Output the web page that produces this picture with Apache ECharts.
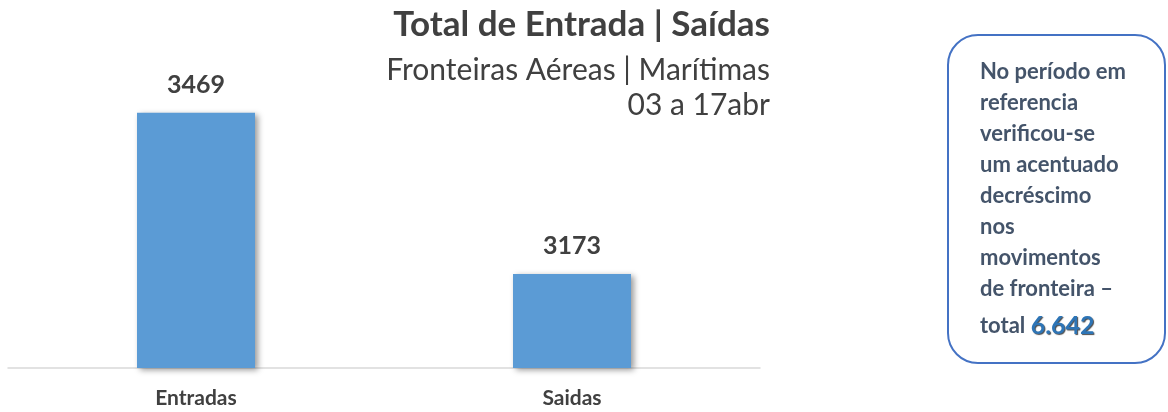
<!DOCTYPE html>
<html><head><meta charset="utf-8">
<script src="https://cdn.jsdelivr.net/npm/echarts@6/dist/echarts.min.js"></script>
<style>html,body{margin:0;padding:0;background:#fff}#c{width:1168px;height:412px}</style>
</head><body><div id="c"></div>
<script>
const categories = ['Entradas', 'Saidas'];
const values = [3469, 3173];
const titleText = 'Total de Entrada | Saídas';
const subtitleLines = ['Fronteiras Aéreas | Marítimas', '03 a 17abr'];
const noteLines = ['No período em', 'referencia', 'verificou-se', 'um acentuado', 'decréscimo', 'nos', 'movimentos', 'de fronteira –'];
const noteTotalLabel = 'total ';
const noteTotal = '6.642';

const FONT = 'Lato, "Open Sans", sans-serif';
const chart = echarts.init(document.getElementById('c'));
const noteEls = noteLines.map((t, i) => ({
  type: 'text', left: 980, top: 61 + i * 31,
  style: { text: t, fill: '#44546A', font: 'bold 22px ' + FONT }
}));
noteEls.push({
  type: 'text', left: 980, top: 61 + noteLines.length * 31 + 4,
  style: { text: '{a|' + noteTotalLabel + '}{b|' + noteTotal + '}',
    rich: { a: { fill: '#44546A', font: 'bold 22px ' + FONT },
            b: { fill: '#2E75B6', font: 'bold 25px ' + FONT, textShadowColor: 'rgba(0,0,0,0.7)', textShadowBlur: 1, textShadowOffsetX: 1, textShadowOffsetY: 1 } } }
});
chart.setOption({
  animation: false,
  title: [
    { text: titleText, right: 393, top: 2,
      textStyle: { fontFamily: FONT, fontSize: 35, fontWeight: 'bold', color: '#404040' } },
    { text: subtitleLines[0], right: 393, top: 50,
      textStyle: { fontFamily: FONT, fontSize: 30, fontWeight: 'normal', color: '#404040' } },
    { text: subtitleLines[1], right: 393, top: 85,
      textStyle: { fontFamily: FONT, fontSize: 30, fontWeight: 'normal', color: '#404040' } }
  ],
  grid: { left: 8, right: 408, top: 96, bottom: 44 },
  xAxis: { type: 'category', data: categories,
    axisLine: { lineStyle: { color: '#D9D9D9', width: 1.5 } }, axisTick: { show: false },
    axisLabel: { fontFamily: FONT, fontSize: 21, fontWeight: 'bold', color: '#404040', margin: 20 } },
  yAxis: { type: 'value', min: 3000, max: 3500, show: false, splitLine: { show: false } },
  series: [{ type: 'bar', data: values, barWidth: 118,
    itemStyle: { color: '#5B9BD5', shadowColor: 'rgba(0,0,0,0.4)', shadowBlur: 6, shadowOffsetX: 3, shadowOffsetY: 2 },
    label: { show: true, position: 'top', distance: 15, fontFamily: FONT, fontSize: 25, fontWeight: 'bold', color: '#404040' } }],
  graphic: [
    { type: 'rect', shape: { x: 948, y: 35, width: 217, height: 328, r: 30 },
      style: { fill: '#fff', stroke: '#4472C4', lineWidth: 2 } },
    ...noteEls
  ]
});
</script></body></html>
